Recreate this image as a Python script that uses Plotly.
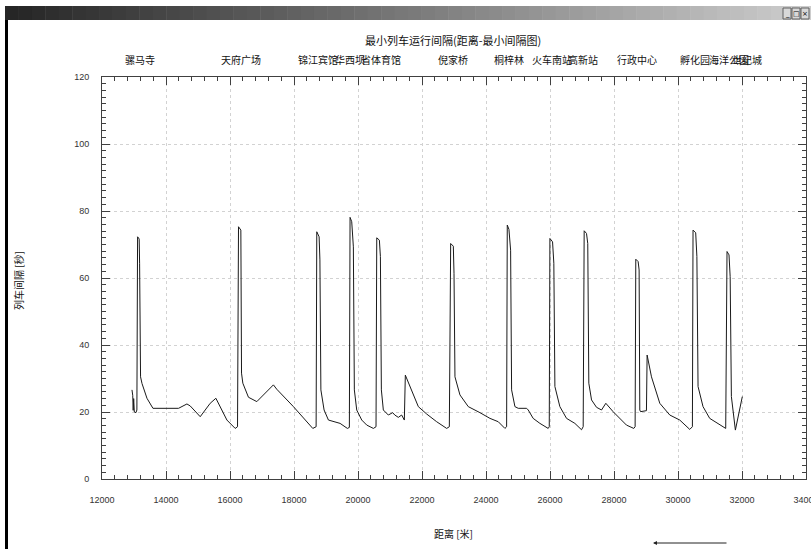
import plotly.graph_objects as go

# ---------------- data ----------------
dist_m = [12937, 12960, 12975, 12990, 13010, 13061, 13090, 13112, 13140, 13162, 13175, 13190, 13205, 13250,
          13299, 13405, 13592, 14392, 14654, 14758, 15069, 15152, 15381, 15559, 15611, 15903, 16162, 16235,
          16266, 16339, 16360, 16401, 16577, 16838, 17357, 17461, 17982, 18294, 18587, 18691,
          18712, 18785, 18810, 18840, 18940, 19076, 19440, 19668, 19730,
          19752, 19804, 19855, 19886, 19960, 20117, 20273, 20480, 20563,
          20586, 20668, 20700, 20730, 20792, 20948, 21083, 21150, 21260, 21364, 21448,
          21479, 21625, 21885, 22146, 22458, 22771, 22854,
          22896, 22979, 23000, 23030, 23186, 23446, 23811, 24123, 24383, 24591, 24644,
          24665, 24717, 24769, 24800, 24904, 25008, 25269, 25320, 25474, 25685, 25943, 25977,
          25997, 26080, 26120, 26153, 26308, 26517, 26777, 26985, 27037,
          27068, 27141, 27180, 27213, 27298, 27454, 27610, 27745, 27972, 28389, 28618, 28660,
          28681, 28754, 28785, 28806, 28830, 29014,
          29035, 29171, 29431, 29743, 30055, 30367, 30450,
          30470, 30553, 30590, 30627, 30782, 30991, 31251, 31491,
          31532, 31594, 31630, 31668, 31793, 31928, 32000, 32010]
headway_s = [26.6, 25.0, 20.5, 24.0, 20.0, 19.8, 20.6, 72.3, 72.0, 71.6, 64.4, 52.4, 30.5, 28.5,
             27.1, 24.1, 21.1, 21.1, 22.4, 21.8, 18.6, 19.6, 22.6, 24.1, 23.1, 17.6, 15.1, 15.6,
             75.3, 74.3, 31.6, 28.6, 24.4, 23.1, 28.1, 26.8, 21.6, 18.4, 15.1, 15.6,
             73.8, 72.3, 65.4, 26.6, 20.6, 17.6, 16.6, 15.1, 15.4,
             78.1, 76.8, 69.3, 26.6, 20.6, 17.6, 16.1, 15.1, 15.6,
             72.0, 71.3, 66.4, 26.6, 20.6, 19.1, 19.8, 19.1, 18.4, 19.1, 17.6,
             31.0, 27.6, 21.6, 19.4, 17.1, 15.1, 15.6,
             70.3, 69.5, 61.4, 30.5, 25.1, 21.6, 19.8, 18.1, 17.1, 15.1, 15.6,
             75.8, 74.5, 68.3, 26.6, 21.6, 21.1, 21.1, 20.6, 18.1, 16.6, 15.1, 15.6,
             71.8, 70.8, 64.4, 27.6, 21.6, 18.1, 16.6, 14.7, 15.6,
             74.1, 73.3, 70.3, 28.6, 23.6, 21.4, 20.6, 22.6, 20.1, 16.1, 15.1, 15.6,
             65.6, 64.9, 62.4, 20.6, 20.1, 20.4,
             37.0, 30.5, 22.6, 19.1, 17.6, 14.8, 15.6,
             74.3, 73.5, 66.4, 27.6, 21.6, 18.1, 16.6, 15.1,
             67.9, 66.9, 60.4, 24.6, 14.6, 20.6, 23.6, 24.6]

station_names = ["骡马寺", "天府广场", "锦江宾馆", "华西坝", "省体育馆", "倪家桥", "桐梓林",
                 "火车南站", "高新站", "行政中心", "孵化园", "海洋公园", "世纪城"]
station_dist = [13193, 16346, 18759, 19764, 20704, 22983, 24716,
                26074, 27042, 28713, 30535, 31590, 32170]

chart_title = "最小列车运行间隔(距离-最小间隔图)"
x_title = "距离 [米]"
y_title = "列车间隔 [秒]"

# ---------------- figure ----------------
W, H = 811, 549
ML, MR, MT, MB = 102, 5, 77, 70
PW, PH = W - ML - MR, H - MT - MB


def px_x(px):
    return (px - ML) / PW


def px_y(py):
    return (H - MB - py) / PH


fig = go.Figure()
fig.add_trace(go.Scatter(x=dist_m, y=headway_s, mode="lines",
                         line=dict(color="#1a1a1a", width=1), hoverinfo="skip", showlegend=False))

axis_common = dict(
    showgrid=True, gridcolor="#d2d2d2", griddash="dot", gridwidth=1,
    showline=True, linecolor="#404040", linewidth=1, mirror="allticks",
    ticks="inside", ticklen=8, tickcolor="#404040", tickwidth=1,
    zeroline=False, tickformat="d", ticklabeloverflow="allow",
    tickfont=dict(family="Liberation Sans, Arial, sans-serif", size=9, color="#333333"),
)

fig.update_xaxes(range=[12000, 34000], dtick=2000, tick0=12000,
                 minor=dict(dtick=400, tick0=12000, ticks="inside", ticklen=4, tickcolor="#404040", showgrid=False),
                 ticklabelstandoff=12, **axis_common)
fig.update_yaxes(range=[0, 120], dtick=20, tick0=0,
                 minor=dict(dtick=2, tick0=0, ticks="inside", ticklen=4, tickcolor="#404040", showgrid=False),
                 ticklabelstandoff=10, **axis_common)

cjk = "Noto Sans CJK SC, sans-serif"
annotations = []
annotations.append(dict(text=chart_title, x=px_x(453), y=px_y(40), xref="paper", yref="paper",
                        showarrow=False, font=dict(family=cjk, size=11, color="#111111"),
                        xanchor="center", yanchor="middle"))
for name, d in zip(station_names, station_dist):
    annotations.append(dict(text=name, x=d, y=px_y(59), xref="x", yref="paper", showarrow=False,
                            font=dict(family=cjk, size=10, color="#111111"),
                            xanchor="center", yanchor="middle"))
annotations.append(dict(text=y_title, x=px_x(18), y=px_y(281), xref="paper", yref="paper",
                        showarrow=False, textangle=-90, font=dict(family=cjk, size=10, color="#111111"),
                        xanchor="center", yanchor="middle"))
annotations.append(dict(text=x_title, x=px_x(453), y=px_y(533), xref="paper", yref="paper",
                        showarrow=False, font=dict(family=cjk, size=10, color="#111111"),
                        xanchor="center", yanchor="middle"))
# direction arrow
annotations.append(dict(text="", x=px_x(653), y=px_y(543), xref="paper", yref="paper",
                        showarrow=True, ax=75, ay=0, axref="pixel", ayref="pixel",
                        arrowhead=2, arrowsize=0.8, arrowwidth=1, arrowcolor="#222222"))

shapes = []
# title-bar gradient
n = 60
x0, x1 = 5, 811
for i in range(n):
    t = i / (n - 1)
    c = int(38 + t * (205 - 38))
    sx0 = x0 + (x1 - x0) * i / n
    sx1 = x0 + (x1 - x0) * (i + 1) / n + 0.5
    shapes.append(dict(type="rect", xref="paper", yref="paper",
                       x0=px_x(sx0), x1=px_x(sx1), y0=px_y(20), y1=px_y(6),
                       fillcolor=f"rgb({c},{c},{c})", line=dict(width=0), layer="above"))
# window buttons
for i, g in enumerate(["_", "□", "×"]):
    bx0 = 783 + i * 9
    shapes.append(dict(type="rect", xref="paper", yref="paper",
                       x0=px_x(bx0), x1=px_x(bx0 + 8), y0=px_y(19), y1=px_y(8),
                       fillcolor="#d8d8d8", line=dict(color="#606060", width=1), layer="above"))
    annotations.append(dict(text=g, x=px_x(bx0 + 4), y=px_y(13.5), xref="paper", yref="paper",
                            showarrow=False, font=dict(family="DejaVu Sans", size=7, color="#000000"),
                            xanchor="center", yanchor="middle"))
# left window border
shapes.append(dict(type="rect", xref="paper", yref="paper",
                   x0=px_x(5), x1=px_x(8), y0=px_y(549), y1=px_y(20),
                   fillcolor="#000000", line=dict(width=0), layer="above"))

fig.update_layout(width=W, height=H, margin=dict(l=ML, r=MR, t=MT, b=MB, autoexpand=False),
                  paper_bgcolor="white", plot_bgcolor="white",
                  annotations=annotations, shapes=shapes, showlegend=False)

fig.write_html("out.html", config={"displayModeBar": False},
               post_script="document.body.style.margin='0';document.body.style.overflow='hidden';")
